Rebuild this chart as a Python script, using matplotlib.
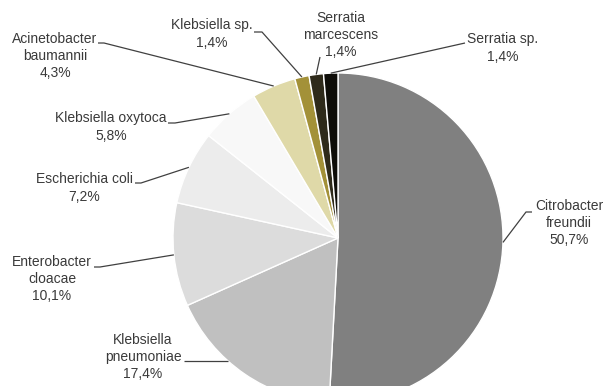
import numpy as np
import matplotlib
matplotlib.use("Agg")
import matplotlib.pyplot as plt

plt.rcParams["font.family"] = ["Liberation Sans", "DejaVu Sans"]

species = ["Citrobacter\nfreundii", "Klebsiella\npneumoniae", "Enterobacter\ncloacae",
           "Escherichia coli", "Klebsiella oxytoca", "Acinetobacter\nbaumannii",
           "Klebsiella sp.", "Serratia\nmarcescens", "Serratia sp."]
percent = [50.7, 17.4, 10.1, 7.2, 5.8, 4.3, 1.4, 1.4, 1.4]
colors = ["#808080", "#c0c0c0", "#dcdcdc", "#ececec", "#f8f8f8",
          "#dfd9a8", "#a39138", "#2e2a1a", "#0e0d08"]

W, H = 603, 386

# label block centre (px), leader start points (px, top-left origin)
label_pos = [(569, 223), (143, 357), (52, 279), (84, 188), (111, 127),
             (55, 56), (212, 34), (341, 35), (503, 48)]
leader_start = [[(532, 212), (526, 212)], [(184, 361)],
                [(94, 267), (100, 267)], [(135, 183), (141, 183)],
                [(168, 123), (175, 123)], [(98, 43), (104, 43)],
                [(254, 32), (262, 32)], [(320, 57)], [(465, 43)]]

fig = plt.figure(figsize=(W / 100, H / 100), dpi=100)
ax = fig.add_axes([0, 0, 1, 1])

cx, cy, r = 338, H - 238, 165
wedges, _ = ax.pie(percent, colors=colors, startangle=90, counterclock=False,
                   center=(cx, cy), radius=r,
                   wedgeprops=dict(edgecolor="white", linewidth=1))

for i, (w, name, val, (lx, ly), pts) in enumerate(
        zip(wedges, species, percent, label_pos, leader_start)):
    if i == 1:
        # this leader runs flat until it meets the pie edge
        y0 = H - pts[0][1]
        end_x = cx - np.sqrt(r ** 2 - (y0 - cy) ** 2)
        end_y = y0
    else:
        mid = np.deg2rad((w.theta1 + w.theta2) / 2)
        end_x = cx + r * np.cos(mid)
        end_y = cy + r * np.sin(mid)
    xs = [p[0] for p in pts] + [end_x]
    ys = [H - p[1] for p in pts] + [end_y]
    ax.plot(xs, ys, color="#404040", lw=0.9, solid_capstyle="butt")
    pct = f"{val:.1f}".replace(".", ",")
    ax.text(lx, H - ly, f"{name}\n{pct}%", ha="center", va="center",
            fontsize=10, color="#3a3a3a", linespacing=1.3)

ax.set_xlim(0, W)
ax.set_ylim(0, H)
ax.set_aspect("auto")
ax.axis("off")

fig.savefig("out.png", dpi=100, facecolor="white")
